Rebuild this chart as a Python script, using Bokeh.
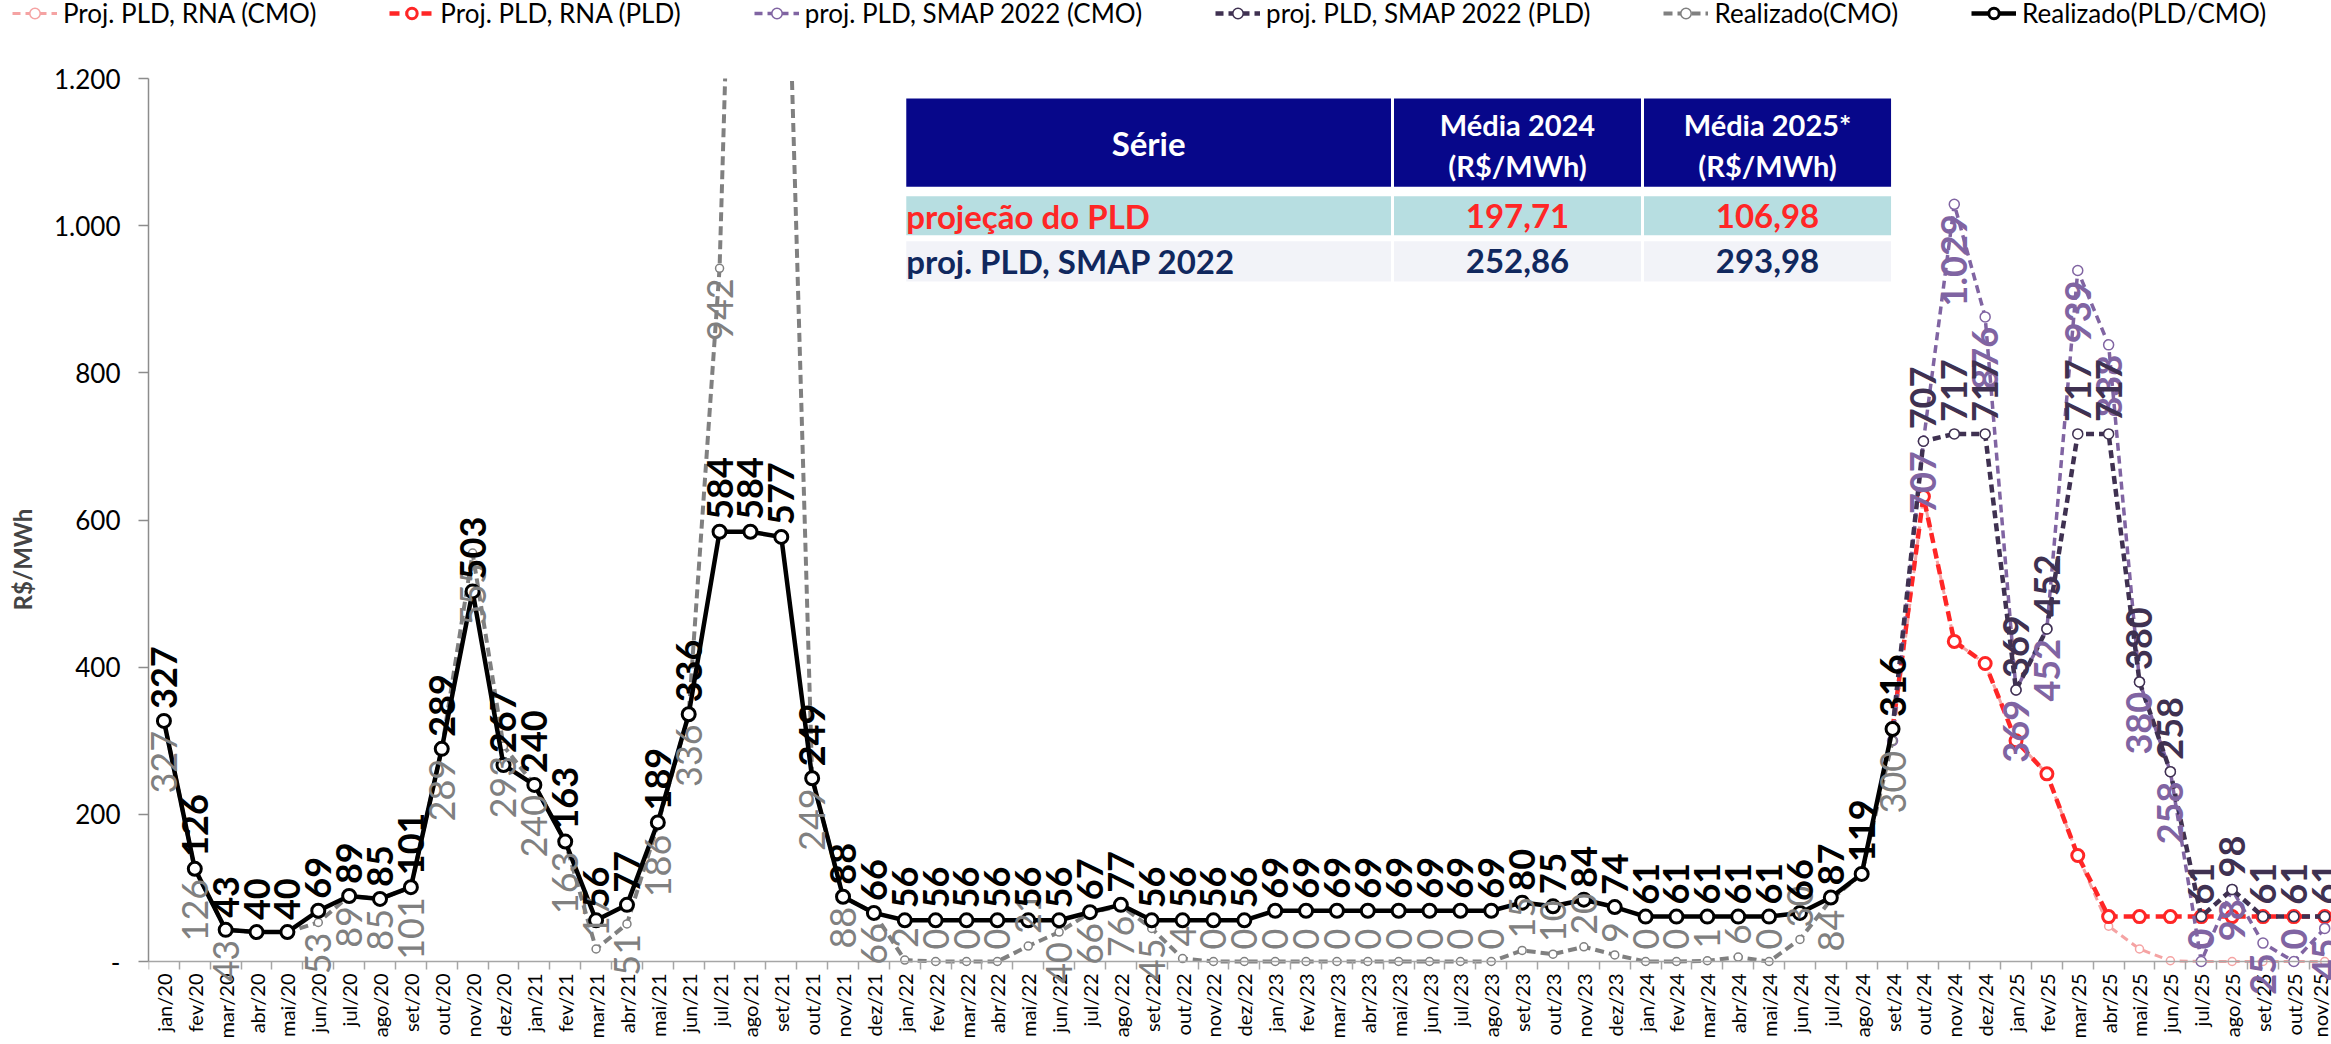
import math
from bokeh.plotting import figure
from bokeh.layouts import column
from bokeh.models import (ColumnDataSource, Range1d, FixedTicker, Legend, LegendItem, LabelSet)
from bokeh.core.properties import value
from bokeh.embed import file_html
from bokeh.resources import INLINE

# ---------------- data ----------------
MONTHS = ["jan", "fev", "mar", "abr", "mai", "jun", "jul", "ago", "set", "out", "nov", "dez"]
YEARS = ["20", "21", "22", "23", "24", "25"]
categories = [f"{m}/{y}" for y in YEARS for m in MONTHS][:71]   # jan/20 .. nov/25

# Realizado (PLD/CMO): jan/20 .. set/24
realizado_pld = [327, 126, 43, 40, 40, 69, 89, 85, 101, 289, 503, 267,
                 240, 163, 56, 77, 189, 336, 584, 584, 577, 249, 88, 66,
                 56, 56, 56, 56, 56, 56, 67, 77, 56, 56, 56, 56,
                 69, 69, 69, 69, 69, 69, 69, 69, 80, 75, 84, 74,
                 61, 61, 61, 61, 61, 66, 87, 119, 316]
# Realizado (CMO): jan/20 .. set/24
realizado_cmo = [327, 126, 43, 40, 40, 53, 89, 85, 101, 289, 555, 293,
                 240, 163, 17, 51, 186, 336, 942, 2375, 1700, 249, 88, 66,
                 2, 0, 0, 0, 21, 40, 66, 76, 45, 4, 0, 0,
                 0, 0, 0, 0, 0, 0, 0, 0, 15, 10, 20, 9,
                 0, 0, 1, 6, 0, 30, 84, 119, 300]
cmo_hidden_labels = [3, 4, 55]

# Projections: set/24 .. nov/25
proj_start = 56
rna_cmo = [300, 632, 435, 405, 300, 255, 144, 48, 17, 1, 0, 0, 0, 0, 0]
rna_pld = [316, 632, 435, 405, 300, 255, 144, 61, 61, 61, 61, 61, 61, 61, 61]
smap_cmo = [300, 707, 1029, 876, 369, 452, 939, 838, 380, 258, 0, 98, 25, 0, 45]
smap_pld = [316, 707, 717, 717, 369, 452, 717, 717, 380, 258, 61, 98, 61, 61, 61]

y_ticks = [0, 200, 400, 600, 800, 1000, 1200]

table_header = ["Série", "Média 2024", "Média 2025*"]
table_unit = "(R$/MWh)"
table_rows = ["projeção do PLD", "proj. PLD, SMAP 2022"]
table_2024 = [197.71, 252.86]
table_2025 = [106.98, 293.98]

legend_labels = ["Proj. PLD, RNA (CMO)", "Proj. PLD, RNA (PLD)", "proj. PLD, SMAP 2022 (CMO)",
                 "proj. PLD, SMAP 2022 (PLD)", "Realizado(CMO)", "Realizado(PLD/CMO)"]

# ---------------- style ----------------
FONT = "Lato"
C_PINK = "#F5A3A3"
C_RED = "#FF2626"
C_PURPLE = "#8064A2"
C_DARK = "#3F3151"
C_GRAY = "#808080"
C_BLACK = "#000000"

STYLES = [  # color, line width, dash, marker size, marker line width
    (C_PINK, 3, "8 5", 8, 1.5),
    (C_RED, 4.5, "10 6", 12, 3),
    (C_PURPLE, 3.5, "8 5", 10, 1.5),
    (C_DARK, 4.5, "8 5", 10, 1.5),
    (C_GRAY, 4, "9 5", 8, 1.5),
    (C_BLACK, 4.5, "solid", 13, 3),
]

# layout: value axis 0..Y_TOP spans PLOT_H px; the frame continues below 0 to hold the
# month labels so that data labels may run past the category axis (as in the original)
Y_TOP = 1200
PLOT_H = 883
FRAME_H = 962
Y_BOTTOM = -Y_TOP * (FRAME_H - PLOT_H) / PLOT_H


def fmt(v):
    return f"{int(round(v)):,}".replace(",", ".")


def fmt2(v):
    return f"{v:.2f}".replace(".", ",")


p = figure(output_backend="svg", toolbar_location=None,
           x_range=Range1d(-0.5, 70.22), y_range=Range1d(Y_BOTTOM, Y_TOP),
           frame_width=2183, frame_height=FRAME_H, frame_align=False,
           min_border_left=148, min_border_right=0, min_border_top=48, min_border_bottom=0)
p.xgrid.visible = False
p.ygrid.visible = False
p.outline_line_color = None

# axes
p.yaxis.bounds = (0, Y_TOP)
p.yaxis.ticker = FixedTicker(ticks=y_ticks)
p.yaxis.major_label_overrides = {t: ("-" if t == 0 else fmt(t)) for t in y_ticks}
p.yaxis.major_label_text_font = FONT
p.yaxis.major_label_text_font_size = "26px"
p.yaxis.major_label_text_color = "black"
p.yaxis.major_tick_out = 10
p.yaxis.major_tick_in = 0
p.yaxis.minor_tick_out = 0
p.yaxis.minor_tick_in = 0
p.yaxis.major_label_standoff = 18
p.yaxis.axis_line_color = "#8C8C8C"
p.yaxis.axis_line_width = 1.5
p.yaxis.major_tick_line_color = "#8C8C8C"
p.yaxis.major_tick_line_width = 1.5
p.yaxis.axis_label = "R$/MWh"
p.yaxis.axis_label_text_font = FONT
p.yaxis.axis_label_text_font_style = "bold"
p.yaxis.axis_label_text_font_size = "24px"
p.yaxis.axis_label_standoff = 14

xs_all = list(range(len(categories)))
p.xaxis.fixed_location = 0
p.xaxis.ticker = FixedTicker(ticks=xs_all, minor_ticks=[k - 0.5 for k in range(len(categories) + 1)])
p.xaxis.major_label_overrides = {i: c for i, c in enumerate(categories)}
p.xaxis.major_label_orientation = math.pi / 2
p.xaxis.major_label_text_font = FONT
p.xaxis.major_label_text_font_size = "20px"
p.xaxis.major_label_text_color = "black"
p.xaxis.major_tick_out = 0
p.xaxis.major_tick_in = 0
p.xaxis.minor_tick_out = 8
p.xaxis.minor_tick_in = 0
p.xaxis.major_label_standoff = 4
p.xaxis.axis_line_color = "#A6A6A6"
p.xaxis.axis_line_width = 1.5
p.xaxis.minor_tick_line_color = "#A6A6A6"
p.xaxis.minor_tick_line_width = 1.5

# ---------------- table ----------------
tx = [24.0, 39.8, 47.9, 56.0]
ty_header = (1051, 1175)
ty_rows = [(985, 1042), (922, 981)]
row_fill = ["#B7DEE1", "#F2F3F8"]
row_text = [C_RED, "#10285E"]

for c in range(3):
    p.quad(left=tx[c], right=tx[c + 1], bottom=ty_header[0], top=ty_header[1],
           fill_color="#07078A", line_color="white", line_width=3)
    for r in range(2):
        p.quad(left=tx[c], right=tx[c + 1], bottom=ty_rows[r][0], top=ty_rows[r][1],
               fill_color=row_fill[r], line_color="white", line_width=3)

hx = [(tx[c] + tx[c + 1]) / 2 for c in range(3)]
hmid = (ty_header[0] + ty_header[1]) / 2
p.text(x=[hx[0]], y=[hmid], text=[table_header[0]], text_color="white",
       text_font=value(FONT), text_font_style="bold", text_font_size="33px",
       text_align="center", text_baseline="middle")
p.text(x=hx[1:], y=[1138, 1138], text=table_header[1:], text_color="white",
       text_font=value(FONT), text_font_style="bold", text_font_size="29px",
       text_align="center", text_baseline="middle")
p.text(x=hx[1:], y=[1082, 1082], text=[table_unit, table_unit], text_color="white",
       text_font=value(FONT), text_font_style="bold", text_font_size="29px",
       text_align="center", text_baseline="middle")
for r in range(2):
    ymid = (ty_rows[r][0] + ty_rows[r][1]) / 2
    p.text(x=[tx[0] + 0.05], y=[ymid], text=[table_rows[r]], text_color=row_text[r],
           text_font=value(FONT), text_font_style="bold", text_font_size="33px",
           text_align="left", text_baseline="middle")
    p.text(x=hx[1:], y=[ymid, ymid], text=[fmt2(table_2024[r]), fmt2(table_2025[r])],
           text_color=row_text[r], text_font=value(FONT), text_font_style="bold",
           text_font_size="33px", text_align="center", text_baseline="middle")

# ---------------- series ----------------
px = list(range(proj_start, proj_start + len(rna_pld)))
rx = list(range(len(realizado_pld)))


def series(fig, x, y, style):
    color, width, dash, msize, mwidth = style
    src = ColumnDataSource(dict(x=x, y=y))
    ln = fig.line("x", "y", source=src, line_color=color, line_width=width, line_dash=dash)
    sc = fig.scatter("x", "y", source=src, marker="circle", size=msize, fill_color="white",
                     line_color=color, line_width=mwidth)
    return [ln, sc]


series(p, px, rna_cmo, STYLES[0])
series(p, px, rna_pld, STYLES[1])
series(p, px, smap_cmo, STYLES[2])
series(p, px, smap_pld, STYLES[3])
series(p, rx, realizado_cmo, STYLES[4])
series(p, rx, realizado_pld, STYLES[5])


# ---------------- data labels ----------------
def labels(x, y, color, style, size, above, skip=(), flip_below=-1):
    """Rotated value labels; 'below' labels of tiny values are flipped above the point."""
    groups = {True: ([], [], []), False: ([], [], [])}
    for i, (xx, yy) in enumerate(zip(x, y)):
        if i in skip or yy > Y_TOP:
            continue
        up = above or yy <= flip_below
        gx, gy, gt = groups[up]
        gx.append(xx)
        gy.append(yy)
        gt.append(fmt(yy))
    for up, (gx, gy, gt) in groups.items():
        if not gx:
            continue
        src = ColumnDataSource(dict(x=gx, y=gy, t=gt))
        p.add_layout(LabelSet(x="x", y="y", text="t", source=src, angle=math.pi / 2,
                              text_align="left" if up else "right", text_baseline="middle",
                              y_offset=12 if up else -10, text_color=color,
                              text_font=value(FONT), text_font_style=style,
                              text_font_size=size))


labels(rx, realizado_cmo, C_GRAY, "normal", "36px", False, skip=cmo_hidden_labels, flip_below=30)
labels(px[1:], smap_cmo[1:], C_PURPLE, "bold", "36px", False, flip_below=10)
labels(px[1:], smap_pld[1:], C_DARK, "bold", "36px", True)
labels(rx, realizado_pld, C_BLACK, "bold", "36px", True)

# ---------------- legend (separate strip above the chart) ----------------
lg = figure(width=2331, height=30, output_backend="svg", toolbar_location=None,
            x_range=Range1d(0, 1), y_range=Range1d(0, 1),
            x_axis_location=None, y_axis_location=None, frame_align=False,
            min_border_left=0, min_border_right=0, min_border_top=0, min_border_bottom=0)
lg.xgrid.visible = False
lg.ygrid.visible = False
lg.outline_line_color = None
nan = float("nan")
items = []
for lab, st in zip(legend_labels, STYLES):
    items.append(LegendItem(label=lab, renderers=series(lg, [nan], [nan], st)))
legend = Legend(items=items, orientation="horizontal", location=(12, 1))
legend.label_text_font = FONT
legend.label_text_font_size = "26px"
legend.label_text_color = "black"
legend.glyph_width = 45
legend.glyph_height = 26
legend.label_height = 26
legend.label_standoff = 6
legend.spacing = 73
legend.padding = 0
legend.margin = 0
legend.border_line_alpha = 0
legend.background_fill_alpha = 0
lg.add_layout(legend)

layout = column(lg, p, spacing=0)
open("out.html", "w").write(file_html(layout, INLINE))
